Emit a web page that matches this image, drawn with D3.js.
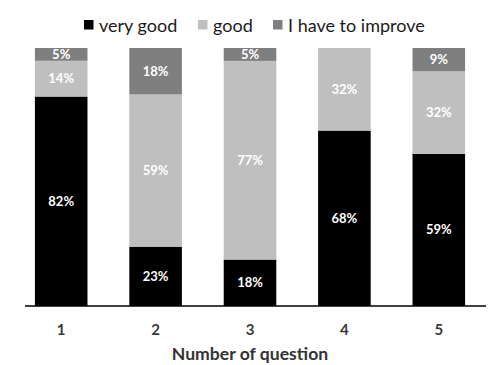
<!DOCTYPE html>
<html><head><meta charset="utf-8">
<script src="https://cdn.jsdelivr.net/npm/d3@7"></script>
<style>body{margin:0;background:#fff}svg{display:block}text{font-family:Lato,"Open Sans",sans-serif}</style>
</head><body><svg id="c" width="500" height="365"></svg>
<script>
const categories = ["1","2","3","4","5"];
const seriesNames = ["very good","good","I have to improve"];
const veryGood = [82,23,18,68,59];
const good = [14,59,77,32,32];
const improve = [5,18,5,0,9];
const colors = ["#000000","#bfbfbf","#7f7f7f"];

const rows = categories.map((c,i)=>({cat:c, "very good":veryGood[i], "good":good[i], "I have to improve":improve[i]}));
const svg = d3.select("#c");
const x = d3.scaleBand().domain(categories).range([14,486]).paddingInner(0.443).paddingOuter(0.2215);
const y = d3.scaleLinear().domain([0,1]).range([306,48]);
const stack = d3.stack().keys(seriesNames).offset(d3.stackOffsetExpand)(rows);

const g = svg.append("g");
stack.forEach((s,si)=>{
  g.selectAll(null).data(s).join("rect")
    .attr("x",d=>x(d.data.cat)).attr("width",x.bandwidth())
    .attr("y",d=>y(d[1])).attr("height",d=>y(d[0])-y(d[1]))
    .attr("fill",colors[si]);
  g.selectAll(null).data(s.filter(d=>d.data[s.key]>0)).join("text")
    .attr("x",d=>x(d.data.cat)+x.bandwidth()/2)
    .attr("y",d=>(y(d[0])+y(d[1]))/2)
    .attr("dy","0.35em").attr("text-anchor","middle")
    .attr("fill","#fff").attr("font-weight","bold").attr("font-size",13)
    .text(d=>d.data[s.key]+"%");
});

// axis
const ax = svg.append("g").attr("transform","translate(0,306)").call(d3.axisBottom(x).tickSize(0).tickPadding(18));
ax.select(".domain").remove();
ax.append("line").attr("x1",25).attr("x2",486).attr("y1",0).attr("y2",0).attr("stroke","#000").attr("stroke-width",1.3);
ax.selectAll(".tick text").attr("font-size",15).attr("font-weight","bold").attr("fill","#3a3a3a").attr("font-family","Lato,sans-serif");

svg.append("text").attr("x",250).attr("y",360).attr("text-anchor","middle")
  .attr("font-size",17.6).attr("font-weight","bold").attr("fill","#333").text("Number of question");

// legend
const legX = [84,198,273];
const lg = svg.append("g");
seriesNames.forEach((n,i)=>{
  lg.append("rect").attr("x",legX[i]).attr("y",20).attr("width",9.5).attr("height",9.5).attr("fill",colors[i]);
  lg.append("text").attr("x",legX[i]+15).attr("y",32).attr("font-size",18).attr("fill","#1a1a1a").text(n);
});
</script></body></html>
